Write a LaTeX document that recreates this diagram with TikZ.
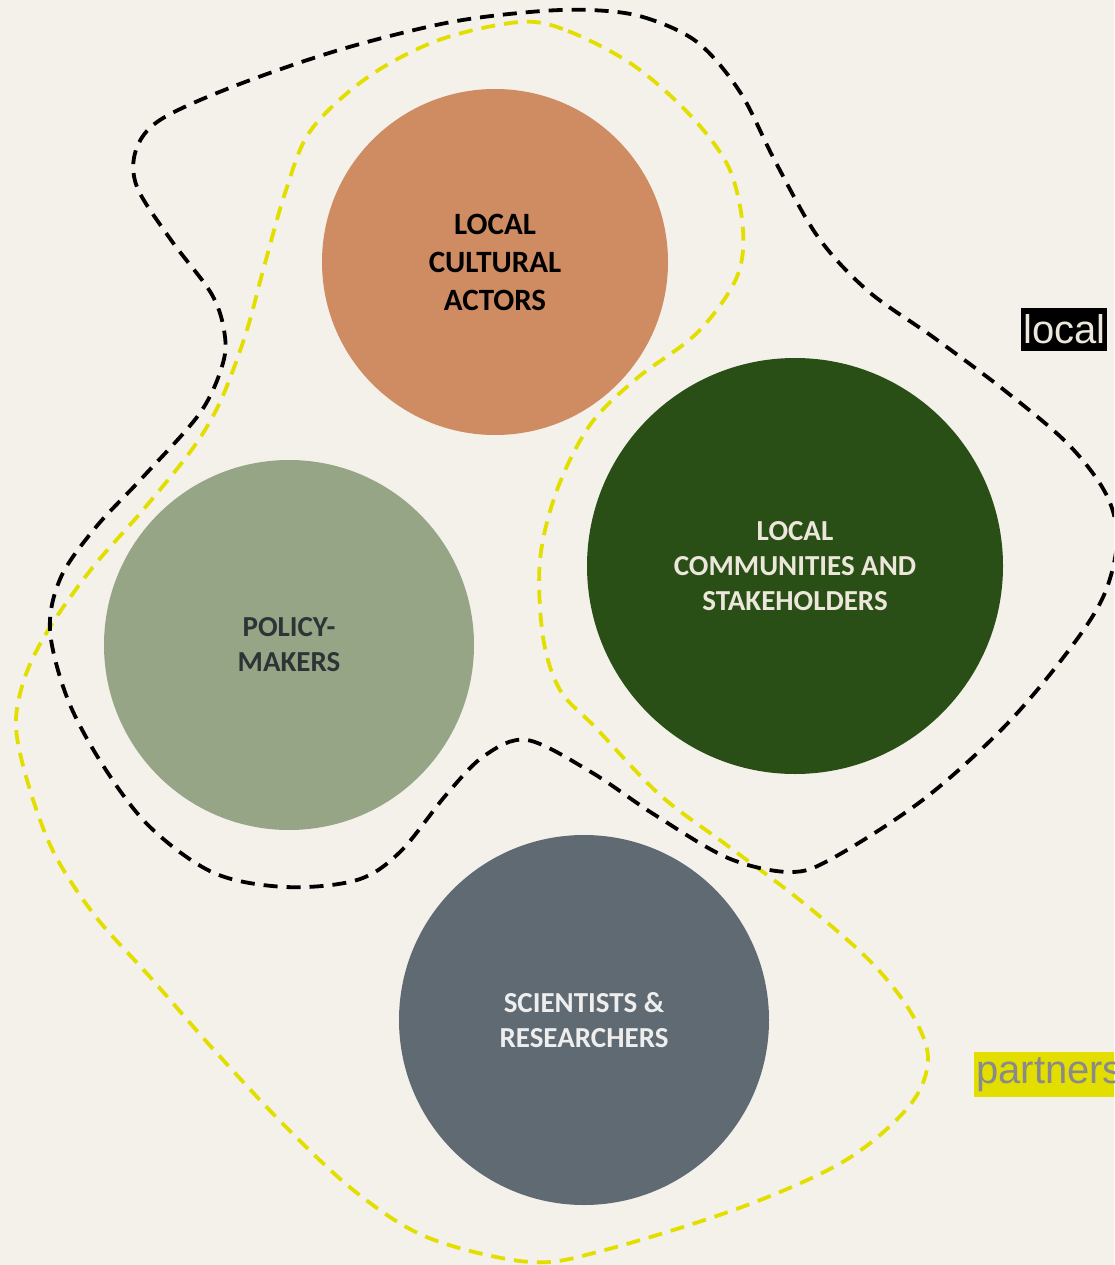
\documentclass[tikz,border=0pt]{standalone}
\usepackage{fontspec}
\setmainfont{Carlito}
\newfontfamily\labelfont{Liberation Sans}
\definecolor{bgc}{RGB}{244,241,235}
\definecolor{orangec}{RGB}{207,140,98}
\definecolor{greenc}{RGB}{41,79,22}
\definecolor{sagec}{RGB}{151,165,135}
\definecolor{slatec}{RGB}{96,106,114}
\definecolor{creamtext}{RGB}{237,231,219}
\definecolor{darktext}{RGB}{46,52,54}
\definecolor{lighttext}{RGB}{238,238,238}
\definecolor{yellowc}{RGB}{226,223,0}
\definecolor{graytext}{RGB}{138,138,138}
\tikzset{
  actor/.style={circle, draw=none, inner sep=0pt, align=center},
  actorfont/.style={font=\bfseries\fontsize{29}{35}\selectfont},
  localline/.style={draw=black, line width=3.8pt, dash pattern=on 14pt off 9pt},
  partnerline/.style={draw=yellowc, line width=3.8pt, dash pattern=on 14pt off 9pt},
  tag/.style={anchor=west, inner xsep=2pt, inner ysep=0pt, font=\labelfont\fontsize{40}{40}\selectfont}
}
\begin{document}
\begin{tikzpicture}[x=1pt,y=-1pt]
\useasboundingbox (0,0) rectangle (1114,1265);
\clip (0,0) rectangle (1114,1265);
\fill[bgc] (0,0) rectangle (1114,1265);

% partners region (yellow)
\draw[partnerline] plot[smooth cycle, tension=0.55] coordinates {
 (520,22) (568,31) (633,65) (690,115) (729,168) (743,230) (736,279) (697,333)
 (636,379) (590,425) (557,490) (540,560) (543,637) (560,690) (596,728) (660,795)
 (728,846) (801,901) (869,960) (910,1011) (928,1058) (910,1105) (846,1160) (742,1207)
 (605,1250) (530,1262) (429,1238) (357,1193) (286,1127) (214,1050) (150,977) (96,917)
 (55,855) (30,790) (16,727) (25,677) (50,627) (93,567) (143,510) (193,448)
 (221,400) (246,333) (264,267) (286,190) (311,130) (368,77) (439,40)};

% local region (black)
\draw[localline] plot[smooth cycle, tension=0.55] coordinates {
 (590,10) (643,17) (697,42) (740,92) (775,161) (818,237) (868,291) (933,337)
 (1004,390) (1068,444) (1106,494) (1117,540) (1104,595) (1069,650) (1006,725) (924,799)
 (833,858) (790,872) (728,858) (655,815) (591,772) (527,740) (484,756) (446,795)
 (400,852) (357,880) (286,887) (214,873) (150,827) (104,767) (68,700) (50,630)
 (61,577) (96,527) (143,477) (200,413) (223,363) (224,330) (211,293) (171,240)
 (137,187) (136,150) (160,120) (232,87) (339,50) (446,23) (530,12)};

% actors
\node[actor, fill=orangec, minimum size=346pt, text=black,
      font=\bfseries\fontsize{31}{38}\selectfont] (cultural) at (495,262) {LOCAL\\CULTURAL\\ACTORS};
\node[actor, actorfont, fill=greenc, minimum size=416pt, text=creamtext] (communities) at (795,566) {LOCAL\\COMMUNITIES AND\\STAKEHOLDERS};
\node[actor, actorfont, fill=sagec, minimum size=370pt, text=darktext] (policy) at (289,645) {POLICY-\\MAKERS};
\node[actor, actorfont, fill=slatec, minimum size=370pt, text=lighttext] (scientists) at (584,1020) {SCIENTISTS \&\\RESEARCHERS};

% region tags
\node[tag, fill=black, text=creamtext, minimum height=43pt] (localtag) at (1021,329.5) {local\hspace{30pt}};
\node[tag, fill=yellowc, text=graytext, minimum height=45pt] (partnerstag) at (974,1074.5) {partners\hspace{10pt}};
\end{tikzpicture}
\end{document}
